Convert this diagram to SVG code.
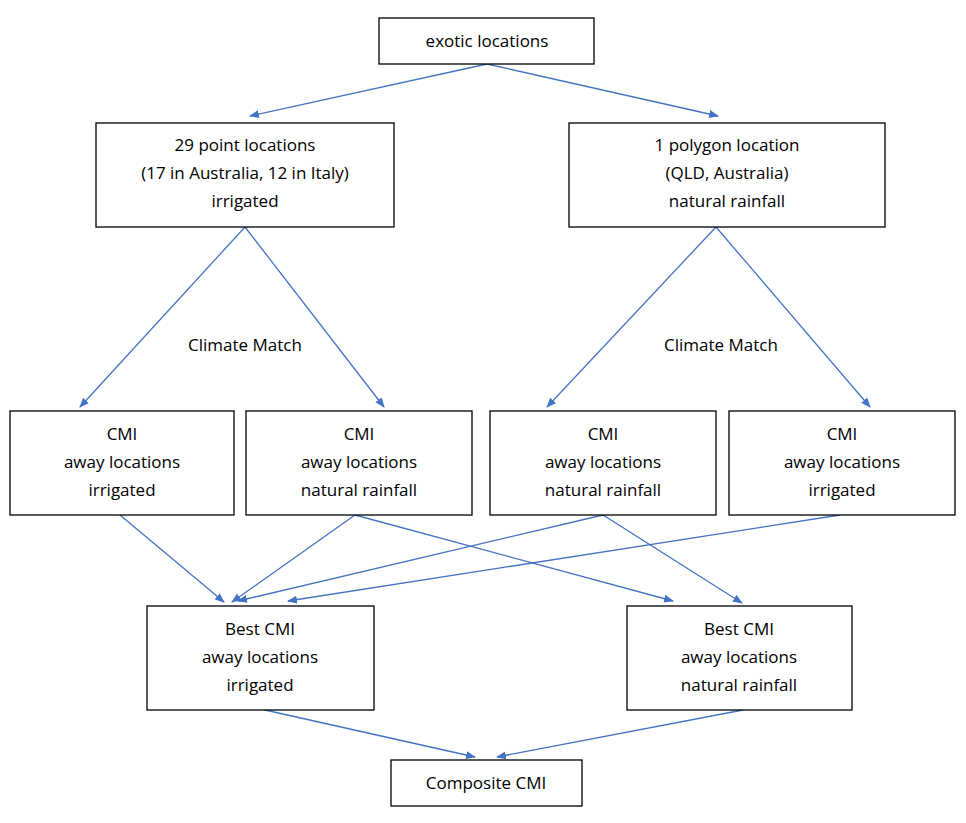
<svg xmlns="http://www.w3.org/2000/svg" width="966" height="823" viewBox="0 0 966 823">
<defs><marker id="a" markerWidth="10" markerHeight="8" refX="9" refY="4" orient="auto" markerUnits="userSpaceOnUse"><path d="M0,0 L10,4 L0,8 Z" fill="#4472C4"/></marker></defs>
<style>rect{fill:#fff;stroke:#000;stroke-width:1.3}text{font-family:"Open Sans","Liberation Sans",sans-serif;font-size:17px;text-anchor:middle;fill:#000}line{stroke:#4472C4;stroke-width:1.3;marker-end:url(#a)}</style>
<rect x="0" y="0" width="966" height="823" style="stroke:none"/>
<g id="connectors">
<line x1="487" y1="64" x2="250" y2="116"/><line x1="487" y1="64" x2="718" y2="116"/>
<line x1="245" y1="227" x2="80" y2="407"/><line x1="245" y1="227" x2="384" y2="407"/>
<line x1="716" y1="227" x2="547" y2="407"/><line x1="716" y1="227" x2="870" y2="407"/>
<line x1="120" y1="515" x2="224" y2="602"/><line x1="355" y1="515" x2="232" y2="602"/><line x1="355" y1="515" x2="673" y2="601"/>
<line x1="603" y1="515" x2="238" y2="601"/><line x1="603" y1="515" x2="742" y2="603"/><line x1="840" y1="515" x2="288" y2="601"/>
<line x1="265" y1="710" x2="475" y2="757"/><line x1="743" y1="710" x2="497" y2="757"/>
</g>
<text x="245" y="351">Climate Match</text><text x="721" y="351">Climate Match</text>
<g id="n1"><rect x="379" y="18" width="215" height="46"/><text x="487" y="47">exotic locations</text></g>
<g id="n2"><rect x="96" y="123" width="298" height="104"/><text x="245" y="151">29 point locations</text><text x="245" y="179">(17 in Australia, 12 in Italy)</text><text x="245" y="207">irrigated</text></g>
<g id="n3"><rect x="569" y="123" width="316" height="104"/><text x="727" y="151">1 polygon location</text><text x="727" y="179">(QLD, Australia)</text><text x="727" y="207">natural rainfall</text></g>
<g id="n4"><rect x="10" y="411" width="224" height="104"/><text x="122" y="440">CMI</text><text x="122" y="468">away locations</text><text x="122" y="496">irrigated</text></g>
<g id="n5"><rect x="246" y="411" width="226" height="104"/><text x="359" y="440">CMI</text><text x="359" y="468">away locations</text><text x="359" y="496">natural rainfall</text></g>
<g id="n6"><rect x="490" y="411" width="226" height="104"/><text x="603" y="440">CMI</text><text x="603" y="468">away locations</text><text x="603" y="496">natural rainfall</text></g>
<g id="n7"><rect x="729" y="411" width="226" height="104"/><text x="842" y="440">CMI</text><text x="842" y="468">away locations</text><text x="842" y="496">irrigated</text></g>
<g id="n8"><rect x="147" y="606" width="227" height="104"/><text x="260" y="635">Best CMI</text><text x="260" y="663">away locations</text><text x="260" y="691">irrigated</text></g>
<g id="n9"><rect x="627" y="606" width="225" height="104"/><text x="739" y="635">Best CMI</text><text x="739" y="663">away locations</text><text x="739" y="691">natural rainfall</text></g>
<g id="n10"><rect x="391" y="760" width="191" height="46"/><text x="486" y="789">Composite CMI</text></g>
</svg>
